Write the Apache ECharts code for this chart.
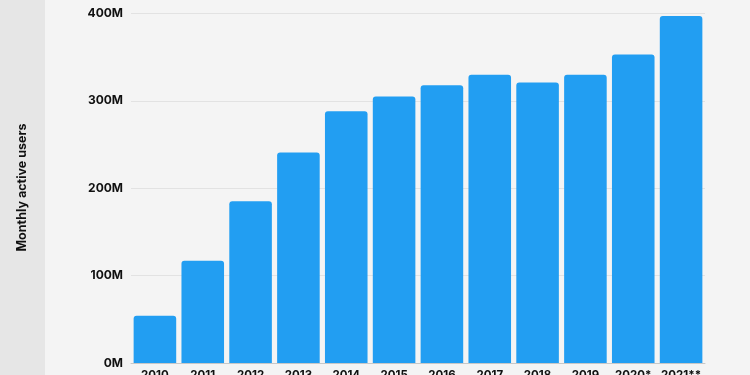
<!DOCTYPE html>
<html><head><meta charset="utf-8">
<script src="https://cdn.jsdelivr.net/npm/echarts@6/dist/echarts.min.js"></script>
<style>html,body{margin:0;padding:0;background:#f4f4f4;}#c{width:750px;height:375px;}</style>
</head><body><div id="c"></div>
<script>
var categories = ['2010','2011','2012','2013','2014','2015','2016','2017','2018','2019','2020*','2021**'];
var users = [54,117,185,241,288,305,318,330,321,330,353,397];
var yTicks = [0,100,200,300,400];
var chart = echarts.init(document.getElementById('c'));
chart.setOption({
  backgroundColor:'#f4f4f4',
  animation:false,
  graphic:[{type:'rect',left:0,top:0,shape:{width:45,height:375},style:{fill:'#e6e6e6'},z:-1},
    {type:'text',left:16,top:'center',rotation:Math.PI/2,style:{text:'Monthly active users',font:'bold 12.5px Inter, "Noto Sans", sans-serif',fill:'#111'}}],
  grid:{left:131,right:45,top:13.5,bottom:12,containLabel:false,outerBoundsMode:'none'},
  xAxis:{type:'category',data:categories,
    axisLine:{lineStyle:{color:'#c8c8c8',width:1}},axisTick:{show:false},
    axisLabel:{interval:0,hideOverlap:false,color:'#111',fontWeight:'bold',fontSize:11.5,fontFamily:'Inter, "Noto Sans", sans-serif',margin:7}},
  yAxis:{type:'value',min:yTicks[0],max:yTicks[yTicks.length-1],interval:100,
    axisLine:{show:false},axisTick:{show:false},
    splitLine:{lineStyle:{color:'#e2e2e2',width:1}},
    axisLabel:{formatter:function(v){return v+'M';},color:'#111',fontWeight:'bold',fontSize:12,fontFamily:'Inter, "Noto Sans", sans-serif',margin:8}},
  series:[{type:'bar',data:users,barCategoryGap:'11%',itemStyle:{color:'#229ef2',borderRadius:[3,3,0,0]}}]
});
</script></body></html>
